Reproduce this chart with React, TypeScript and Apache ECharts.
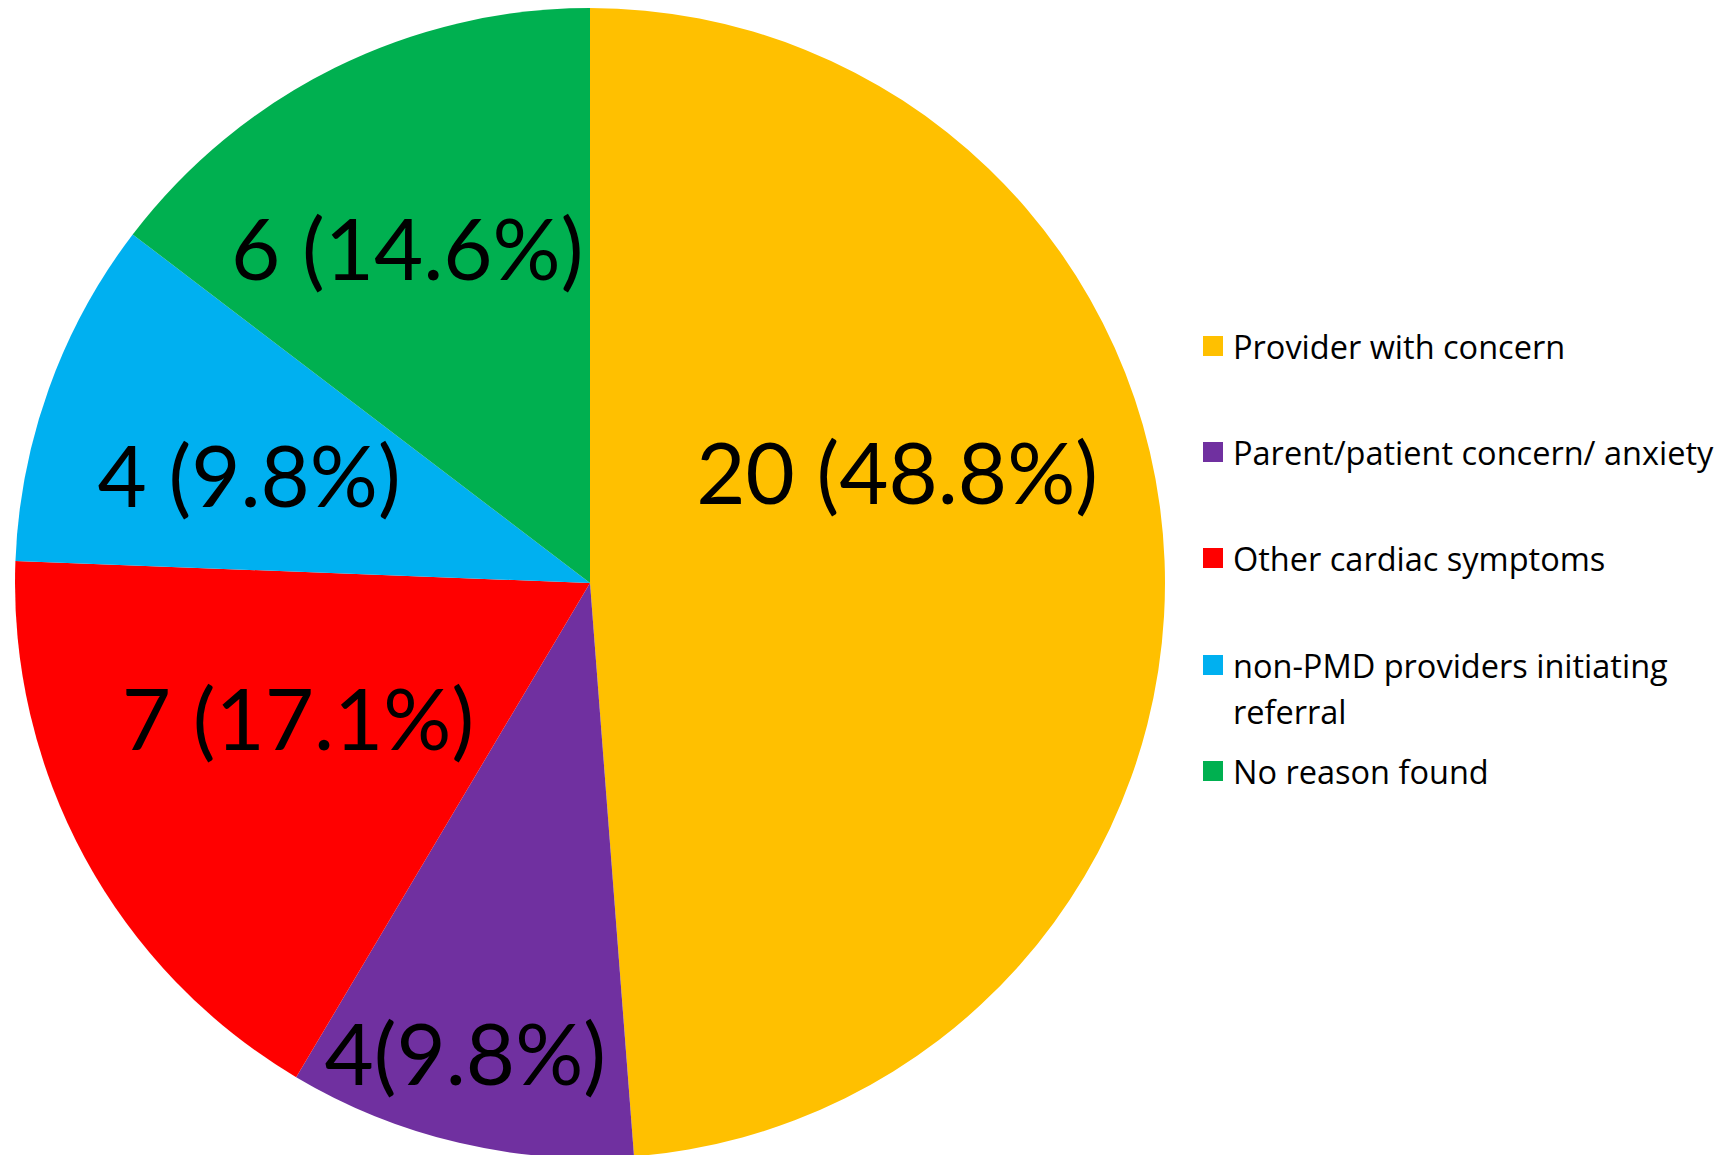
import React, { useEffect, useRef } from "react";
import * as echarts from "echarts";

const categories = [
  "Provider with concern",
  "Parent/patient concern/ anxiety",
  "Other cardiac symptoms",
  "non-PMD providers initiating referral",
  "No reason found",
];
const counts = [20, 4, 7, 4, 6];
const colors = ["#FFC000", "#7030A0", "#FF0000", "#00B0F0", "#00B050"];
const labelSeparators = [" ", "", " ", " ", " "];

// layout (label anchors as fractions of the pie radius, relative to the centre)
const CX = 590;
const CY = 583;
const R = 575;
const labelAnchors = [
  [0.534, -0.195],
  [-0.217, 0.815],
  [-0.508, 0.233],
  [-0.593, -0.19],
  [-0.318, -0.585],
];

export default function App() {
  const ref = useRef<HTMLDivElement>(null);
  useEffect(() => {
    document.body.style.margin = "0";
    const chart = echarts.init(ref.current!, null, { renderer: "svg" });
    const total = counts.reduce((a, b) => a + b, 0);
    const legendText = {
      fontFamily: "Open Sans",
      fontSize: 32.5,
      color: "#000",
      lineHeight: 46,
      padding: [0, 0, 0, 5],
    };
    chart.setOption({
      animation: false,
      backgroundColor: "#fff",
      color: colors,
      legend: [
        {
          orient: "vertical",
          left: 1203,
          top: 323,
          padding: 0,
          itemWidth: 20,
          itemHeight: 20,
          itemGap: 60,
          icon: "rect",
          selectedMode: false,
          textStyle: legendText,
          data: categories.slice(0, 3),
        },
        {
          orient: "vertical",
          left: 1203,
          top: 596,
          padding: 0,
          itemWidth: 20,
          itemHeight: 20,
          itemGap: 14,
          icon: "rect",
          selectedMode: false,
          textStyle: legendText,
          formatter: (name: string) =>
            name === categories[3] ? " \n" + name.replace(" referral", "\nreferral") : name,
          data: categories.slice(3),
        },
      ],
      series: [
        {
          type: "pie",
          center: [CX, CY],
          radius: R,
          startAngle: 90,
          clockwise: true,
          itemStyle: { borderWidth: 0 },
          label: {
            show: true,
            position: "inside",
            fontFamily: "Lato",
            fontSize: 85,
            color: "#000",
            formatter: (p: any) =>
              `${p.value}${labelSeparators[p.dataIndex]}(${((p.value / total) * 100).toFixed(1)}%)`,
          },
          labelLine: { show: false },
          labelLayout: (p: any) => {
            const a = labelAnchors[p.dataIndex];
            return {
              x: CX + a[0] * R,
              y: CY + a[1] * R,
              align: "center",
              verticalAlign: "middle",
            };
          },
          emphasis: { disabled: true },
          data: categories.map((name, i) => ({ name, value: counts[i] })),
        },
      ],
    });
    return () => chart.dispose();
  }, []);
  return <div ref={ref} style={{ width: 1732, height: 1155 }} />;
}
